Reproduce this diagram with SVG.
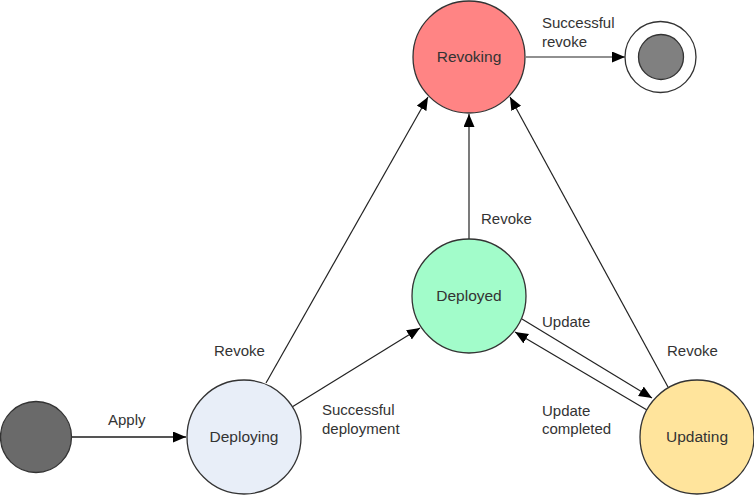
<svg xmlns="http://www.w3.org/2000/svg" width="754" height="495" viewBox="0 0 754 495">
<style>
.st{stroke:#333;stroke-width:1.3}
.lbl{font-family:"Liberation Sans",Arial,sans-serif;font-size:15px;fill:#333}
.nl{font-family:"Liberation Sans",Arial,sans-serif;font-size:15.5px;fill:#333;text-anchor:middle}
.edge{stroke:#222;stroke-width:1.2;fill:none;marker-end:url(#ah)}
</style>
<defs>
<marker id="ah" markerUnits="userSpaceOnUse" markerWidth="14" markerHeight="12" refX="13" refY="5.5" orient="auto">
<path d="M0,0 L13,5.5 L0,11 z" fill="#000"/>
</marker>
</defs>
<rect width="754" height="495" fill="#fff"/>
<g id="connectors">
<line class="edge" x1="72" y1="437" x2="186" y2="437" style="stroke:#555;stroke-width:2"/>
<line class="edge" x1="266" y1="383" x2="428" y2="97"/>
<line class="edge" x1="292" y1="407" x2="420" y2="328"/>
<line class="edge" x1="469" y1="239" x2="469" y2="114"/>
<line class="edge" x1="522" y1="319" x2="652" y2="398"/>
<line class="edge" x1="647" y1="410" x2="515" y2="332"/>
<line class="edge" x1="668" y1="387" x2="510" y2="97"/>
<line class="edge" x1="526" y1="57" x2="625" y2="57"/>
<text class="lbl" x="108" y="425">Apply</text>
<text class="lbl" x="214" y="356">Revoke</text>
<text class="lbl" x="322" y="415">Successful</text>
<text class="lbl" x="322" y="434">deployment</text>
<text class="lbl" x="481" y="224">Revoke</text>
<text class="lbl" x="542" y="327">Update</text>
<text class="lbl" x="667" y="356">Revoke</text>
<text class="lbl" x="542" y="416">Update</text>
<text class="lbl" x="542" y="434">completed</text>
<text class="lbl" x="542" y="28">Successful</text>
<text class="lbl" x="542" y="47">revoke</text>
</g>
<g id="initial">
<circle class="st" cx="36" cy="437" r="35.5" fill="#6a6a6a"/>
</g>
<g id="deploying">
<circle class="st" cx="244" cy="437" r="57" fill="#e8eef8"/>
<text class="nl" x="244" y="442">Deploying</text>
</g>
<g id="deployed">
<circle class="st" cx="469" cy="296" r="57" fill="#a2fcca"/>
<text class="nl" x="469" y="301">Deployed</text>
</g>
<g id="revoking">
<circle class="st" cx="469" cy="57" r="56" fill="#ff8484"/>
<text class="nl" x="469" y="62">Revoking</text>
</g>
<g id="updating">
<circle class="st" cx="697" cy="437" r="57" fill="#ffe49c"/>
<text class="nl" x="697" y="442">Updating</text>
</g>
<g id="final">
<circle class="st" cx="660.5" cy="57" r="35.5" fill="#fff"/>
<circle class="st" cx="661" cy="57" r="22.5" fill="#808080"/>
</g>
</svg>
